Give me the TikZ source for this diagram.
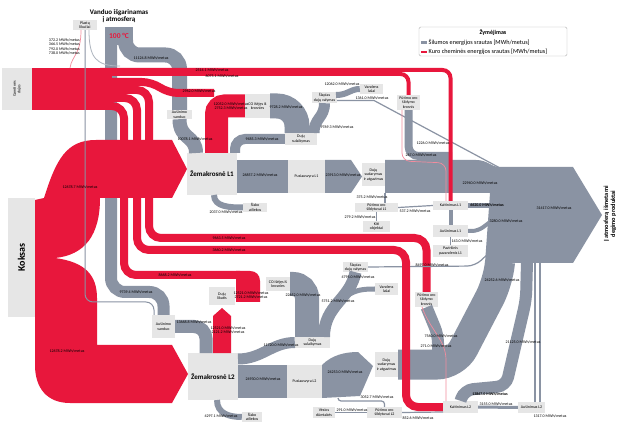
\documentclass[tikz,border=0pt]{standalone}
\usepackage{fontspec}
\setmainfont{Carlito}
\usetikzlibrary{positioning}

\definecolor{heat}{RGB}{138,147,163}
\definecolor{fuel}{RGB}{232,23,60}
\definecolor{boxgray}{RGB}{230,230,230}
\definecolor{fuelthin}{RGB}{242,140,158}

\newcommand{\lblfont}{\fontsize{4}{4.4}\selectfont}
\newcommand{\boxfont}{\fontsize{4}{4.5}\selectfont}

\tikzset{
  heatband/.style={draw=heat,line width=#1},
  fuelband/.style={draw=fuel,line width=#1},
  thinheat/.style={draw=heat,line width=1.2},
  thinfuel/.style={draw=fuelthin,line width=0.7},
  box/.style={fill=boxgray,inner sep=0.5,align=center,font=\boxfont},
  lbl/.style={font=\lblfont,inner sep=0}
}

\begin{document}
\begin{tikzpicture}[x=1pt,y=-1pt]
\fill[white] (0,0) rectangle (619,422);
\useasboundingbox (0,0) rectangle (619,422);

% boxes
\node[box,minimum width=24,minimum height=10] (plast) at (85,25) {Plastų\\likučiai};
\node[box,rotate=90,minimum width=42,minimum height=30] (gas) at (17,89) {Gamtinės\\dujos};
\node[box,rotate=90,minimum width=119,minimum height=27,font=\bfseries\fontsize{10}{10}\selectfont] (koks) at (21.5,257.5) {Koksas};
\node[box,minimum width=25,minimum height=9] (ausL1) at (179.5,114.5) {Aušinimo\\vanduo};
\node[box,minimum width=50,minimum height=42,font=\bfseries\fontsize{7}{7}\selectfont] (zkL1) at (212,174) {Žemakrosnė L1};
\node[box,minimum width=25,minimum height=24] (co1) at (257.5,106) {CO išėjęs iš\\krosnies};
\node[box,minimum width=32,minimum height=12] (colL1) at (301,139) {Dujų\\sulaikymas};
\node[box,minimum width=25,minimum height=11] (slL1) at (324.5,97.5) {Šlapias\\dujų valymas};
\node[box,minimum width=23,minimum height=10] (vlL1) at (371.5,89) {Vandens\\lašai};
\node[box,minimum width=23,minimum height=15] (putL1) at (408.5,102.5) {Pūtimo oro\\šildymo\\krosnis};
\node[box,minimum width=37,minimum height=33] (puL1) at (306.5,176.5) {Pusiausvyra L1};
\node[box,minimum width=23,minimum height=23] (sudL1) at (373.5,174.5) {Dujų\\sudarymas\\ir atgavimas};
\node[box,minimum width=24,minimum height=9] (sldL1) at (255,207.5) {Šlako\\atliekos};
\node[box,minimum width=43,minimum height=9.5] (psL1) at (376.5,207.5) {Pūtimo oro\\šildytuvai L1};
\node[box,minimum width=27,minimum height=11] (kitL1) at (376.5,226.5) {Kiti\\objektai};
\node[box,minimum width=35,minimum height=9] (ketL1) at (450.5,205.5) {Kaitinimas L1};
\node[box,minimum width=35,minimum height=12] (ausmL1) at (450.5,231) {Aušinimas L1};
\node[box,minimum width=35,minimum height=12] (pvL1) at (450.5,251) {Paviršinis\\pavandenis L1};

\node[box,minimum width=23,minimum height=23] (ausL2) at (163.5,326.5) {Aušinimo\\vanduo};
\node[box,minimum width=50,minimum height=47,font=\bfseries\fontsize{7}{7}\selectfont] (zkL2) at (213,376.5) {Žemakrosnė L2};
\node[box,minimum width=26,minimum height=18] (dujL2) at (222,296) {Dujų\\likutis};
\node[box,minimum width=24,minimum height=14] (co2) at (278,284) {CO išėjęs iš\\krosnies};
\node[box,minimum width=35,minimum height=11] (colL2) at (312.5,342.5) {Dujų\\sulaikymas};
\node[box,minimum width=25,minimum height=10] (slL2) at (355.5,267) {Šlapias\\dujų valymas};
\node[box,minimum width=23,minimum height=12] (vlL2) at (386.5,289) {Vandens\\lašai};
\node[box,minimum width=23,minimum height=15] (putL2) at (426.5,299.5) {Pūtimo oro\\šildymo\\krosnis};
\node[box,minimum width=35,minimum height=33] (puL2) at (304.5,381.5) {Pusiausvyra L2};
\node[box,minimum width=23,minimum height=25] (sudL2) at (386.5,364.5) {Dujų\\sudarymas\\ir atgavimas};
\node[box,minimum width=35,minimum height=12] (ketL2) at (460.5,407) {Kaitinimas L2};
\node[box,minimum width=27,minimum height=11] (ausmL2) at (531.5,407.5) {Aušinimas L2};
\node[box,minimum width=22,minimum height=11] (vesL2) at (324,412.5) {Vėsios\\dūmtakės};
\node[box,minimum width=35,minimum height=11] (psL2) at (384.5,412.5) {Pūtimo oro\\šildytuvai L2};
\node[box,minimum width=20,minimum height=10] (sldL2) at (252,417) {Šlako\\atliekos};

% water to the atmosphere
\fill[heat] (105,27) rectangle (133,45);
\draw[heatband=12,rounded corners=14] (111,40) -- (111,292) -- (163.5,292) -- (ausL2.north);
\draw[heatband=15,rounded corners=14] (125.5,40) -- (125.5,55) -- (179.5,55) -- (ausL1.north);

% natural gas
\fill[fuel] (32,68) rectangle (112,110);
\draw[fuelband=8,rounded corners=10] (100,82) -- (152,82) -- (168,93) -- (214,93);
\draw[fuelband=23,rounded corners=8] (216.5,153) -- (216.5,106) -- (co1.west);
\draw[fuelband=8,rounded corners=12] (100,90) -- (149,90) -- (149,238) -- (426.5,238) -- (putL2.north);
\draw[fuelband=8,rounded corners=12] (100,106) -- (124,106) -- (124,275) -- (240,275);
\fill[fuel] (236,271) -- (250,271) .. controls (256,271) and (260,275) .. (260,281) -- (260,302) -- (236,302) -- cycle;
\fill[fuel] (213,353) -- (213,316) -- (222,308) -- (231,316) -- (231,353) -- cycle;

% coke
\fill[fuel] (35,200) -- (44,198) .. controls (56,160) and (66,140) .. (96,140) -- (172,140) -- (187,169) -- (172,198) -- (100,198)
  .. controls (100,235) and (85,255) .. (55,258) .. controls (85,262) and (97,275) .. (97,298) -- (97,345) -- (172,345)
  -- (188,374) -- (172,403) -- (70,403) .. controls (47,403) and (35,388) .. (35,365) -- cycle;

% thin lines from the top left box
\draw[heat,line width=1,rounded corners=8] (plast.south) -- (85,302) -- (154,302) -- (154,315);
\draw[thinfuel] (81,30) .. controls (81,55) and (72,55) .. (70,68);
\draw[heat!70,line width=0.8] (89,30) .. controls (89,58) and (96,66) .. (120,66);

% heat flows L1
\draw[heatband=14] (ausL1.south) .. controls (179.5,140) and (196,135) .. (196,153);
\draw[heatband=10,rounded corners=10] (235,153) -- (235,139) -- (colL1.west);
\draw[heatband=25,rounded corners=20] (co1.east) -- (297,106) -- (297,133);
\draw[heatband=11] (314,133) .. controls (314,118) and (324.5,118) .. (slL1.south);
\draw[heatband=6] (336,95) .. controls (348,95) and (350,89) .. (vlL1.west);
\draw[thinheat] (337,100.5) -- (374,100.5) -- (500,168);
\draw[heatband=8,rounded corners=10] (putL1.south) -- (408.5,156) -- (452,156);
\fill[heat] (237,160) rectangle (288,193);
\fill[heat] (325,160) -- (351,160) -- (362,176.5) -- (351,193) -- (325,193) -- cycle;
\fill[heat] (385,160) -- (476,160) .. controls (488,160) and (490,167) .. (500,167) -- (573,167) -- (602,215)
  -- (573,263) -- (485,263) -- (490,193) -- (385,193) -- cycle;
\draw[thinfuel,rounded corners=8] (402,110) -- (402,161) -- (446,163) -- (446,201);
\draw[heatband=6] (214,195) .. controls (214,207) and (230,207.5) .. (sldL1.west);
\draw[thinheat] (385,193) -- (psL1.north -| 385,0);
\draw[thinheat] (psL1.south) -- (kitL1.north);
\draw[thinheat] (psL1.east) -- (ketL1.west);
\draw[heatband=4] (ketL1.south) -- (ausmL1.north);
\draw[heat,line width=0.8] (ausmL1.south) -- (pvL1.north);
\draw[heatband=5] (ketL1.east) -- (490,205.5);
\draw[heatband=4,rounded corners=6] (ausmL1.east) -- (478,231) -- (490,222);

% heat flows L2
\draw[heatband=13,rounded corners=12] (ausL2.east) -- (206,326.5) -- (206,353);
\draw[heatband=11] (238,359) .. controls (262,359) and (272,342.5) .. (colL2.west);
\draw[heatband=24,rounded corners=14] (co2.east) -- (307,284) -- (307,337);
\draw[heatband=12] (324,337) .. controls (324,305) and (350,300) .. (slL2.south);
\draw[heatband=5] (345,297) .. controls (355,290) and (362,289) .. (vlL2.west);
\draw[thinheat,rounded corners=8] (slL2.east) -- (475,266) -- (490,252);
\fill[heat] (238,365) rectangle (287,398);
\fill[heat] (322,365) .. controls (332,355) and (345,352) .. (358,352) -- (373,366) -- (360,396) -- (322,398) -- cycle;
\draw[heatband=30,rounded corners=18] (sudL2.east) -- (455,364.5) -- (498,282) -- (500,262);
\draw[heatband=12,rounded corners=8] (putL2.south) -- (438,335) -- (438,350);
\draw[heatband=12,rounded corners=9] (ketL2.north) -- (464,390) -- (506,386) -- (526,300) -- (527,262);
\draw[thinheat] (535,402) -- (535,263);
\draw[thinheat] (540,402) -- (540,263);
\draw[heatband=3] (ketL2.east) -- (ausmL2.west);
\draw[heatband=6] (217,400) .. controls (217,414) and (230,417) .. (sldL2.west);
\draw[thinheat,rounded corners=3] (338,398) -- (338,401) -- (384.5,401) -- (psL2.north);
\draw[thinheat] (psL2.west) -- (vesL2.east);
\draw[thinheat] (psL2.east) -- (443,412);
\draw[thinfuel] (422,307) .. controls (430,330) and (446,340) .. (446,360) -- (446,401);

% fuel lines drawn over the heat flows
\draw[fuelband=4,rounded corners=8] (100,70) -- (450.5,70) -- (ketL1.north);
\draw[fuelband=4,rounded corners=8] (100,74) -- (408.5,74) -- (putL1.north);
\draw[fuelband=8,rounded corners=12] (100,98) -- (137,98) -- (137,250) -- (406,250) -- (406,407) -- (ketL2.west);

% texts
\node[font=\bfseries\fontsize{7}{6.8}\selectfont,align=center] (title) at (119,16) {Vanduo išgarinamas\\į atmosferą};
\node[font=\bfseries\fontsize{7.5}{7.5}\selectfont,text=fuel] (deg) at (119,36) {100 °C};
\node[font=\bfseries\fontsize{6.3}{7}\selectfont,rotate=90,align=center] (exit) at (610,214) {Į atmosferą išmetami\\degimo produktai};

\node[lbl,anchor=east] (m1) at (80,40) {372.2 MWh/metus};
\node[lbl,anchor=east] (m2) at (80,44.5) {366.5 MWh/metus};
\node[lbl,anchor=east] (m3) at (80,49) {792.0 MWh/metus};
\node[lbl,anchor=east] (m4) at (80,53.5) {738.0 MWh/metus};
\node[lbl] (m5) at (151,58) {11124.8 MWh/metus};
\node[lbl] (m6) at (212,70) {2514.1 MWh/metus};
\node[lbl] (m7) at (222,76) {6075.1 MWh/metus};
\node[lbl] (m8) at (199,91) {2962.0 MWh/metus};
\node[lbl] (m9) at (231,104) {12052.0 MWh/metus};
\node[lbl] (m10) at (231,108.5) {2752.3 MWh/metus};
\node[lbl] (m11) at (195,139) {10078.1 MWh/metus};
\node[lbl] (m12) at (286,107) {9728.2 MWh/metus};
\node[lbl] (m13) at (262,139.5) {9485.3 MWh/metus};
\node[lbl] (m14) at (337,127) {9769.3 MWh/metus};
\node[lbl] (m15) at (342,84) {12062.0 MWh/metus};
\node[lbl] (m16) at (372,98) {1361.0 MWh/metus};
\node[lbl] (m17) at (433,143) {1226.0 MWh/metus};
\node[lbl] (m18) at (421,155) {267.0 MWh/metus};
\node[lbl] (m19) at (80,187) {12678.7 MWh/metus};
\node[lbl] (m20) at (260,175) {26857.2 MWh/metus};
\node[lbl] (m21) at (343,175) {23913.0 MWh/metus};
\node[lbl] (m22) at (480,183) {22940.0 MWh/metus};
\node[lbl,font=\bfseries\lblfont] (m23) at (487,205) {6620.0 MWh/metus};
\node[lbl] (m24) at (554,208) {31417.0 MWh/metus};
\node[lbl] (m25) at (372,197.5) {375.2 MWh/metus};
\node[lbl] (m26) at (415,211) {537.2 MWh/metus};
\node[lbl] (m27) at (360,217) {279.2 MWh/metus};
\node[lbl] (m28) at (226,212) {2037.0 MWh/metus};
\node[lbl] (m29) at (506,221) {3280.0 MWh/metus};
\node[lbl] (m30) at (467,241.5) {143.0 MWh/metus};
\node[lbl] (m31) at (229,238) {9663.5 MWh/metus};
\node[lbl] (m32) at (229,250) {3660.2 MWh/metus};
\node[lbl] (m33) at (175,275) {8668.2 MWh/metus};
\node[lbl] (m34) at (432,265) {8497.0 MWh/metus};
\node[lbl] (m35) at (136,292) {9739.4 MWh/metus};
\node[lbl] (m36) at (358,277) {4795.0 MWh/metus};
\node[lbl] (m37) at (338,301) {5751.2 MWh/metus};
\node[lbl] (m38) at (303,295) {22652.0 MWh/metus};
\node[lbl] (m39) at (251,293) {12521.0 MWh/metus};
\node[lbl] (m40) at (251,297.5) {2721.2 MWh/metus};
\node[lbl] (m41) at (228,328) {12521.0 MWh/metus};
\node[lbl] (m42) at (228,332.5) {2121.2 MWh/metus};
\node[lbl] (m43) at (194,322) {13668.8 MWh/metus};
\node[lbl] (m44) at (502,280) {24252.6 MWh/metus};
\node[lbl] (m45) at (441,336) {7560.0 MWh/metus};
\node[lbl] (m46) at (436,346) {271.0 MWh/metus};
\node[lbl] (m47) at (523,342) {21125.0 MWh/metus};
\node[lbl] (m48) at (281,345.5) {11720.0 MWh/metus};
\node[lbl] (m49) at (67,351) {12678.2 MWh/metus};
\node[lbl] (m50) at (263,379) {24930.0 MWh/metus};
\node[lbl] (m51) at (345,372) {24253.0 MWh/metus};
\node[lbl,font=\bfseries\lblfont] (m52) at (490,394) {13867.0 MWh/metus};
\node[lbl] (m53) at (377,397.5) {3052.7 MWh/metus};
\node[lbl] (m54) at (496,404) {3155.0 MWh/metus};
\node[lbl] (m55) at (221,416) {4297.1 MWh/metus};
\node[lbl] (m56) at (352,410) {291.0 MWh/metus};
\node[lbl] (m57) at (418,418) {852.6 MWh/metus};
\node[lbl] (m58) at (550,416) {1317.0 MWh/metus};

% legend
\draw[gray!60,rounded corners=1.5,fill=white] (419,27) rectangle (567,56);
\node[font=\bfseries\fontsize{6}{6}\selectfont] (legT) at (493,33) {Žymėjimas};
\coordinate (legHs) at (427,42.5);
\coordinate (legFs) at (427,52);
\draw[heat,line width=2.5] (421,42.5) -- (legHs);
\draw[fuel,line width=2.5] (421,52) -- (legFs);
\node[right=1.5pt of legHs,inner sep=0,font=\fontsize{6.2}{6.2}\selectfont] (legH) {Šilumos energijos srautas [MWh/metus]};
\node[right=1.5pt of legFs,inner sep=0,font=\fontsize{6.2}{6.2}\selectfont] (legF) {Kuro cheminės energijos srautas [MWh/metus]};

\end{tikzpicture}
\end{document}
